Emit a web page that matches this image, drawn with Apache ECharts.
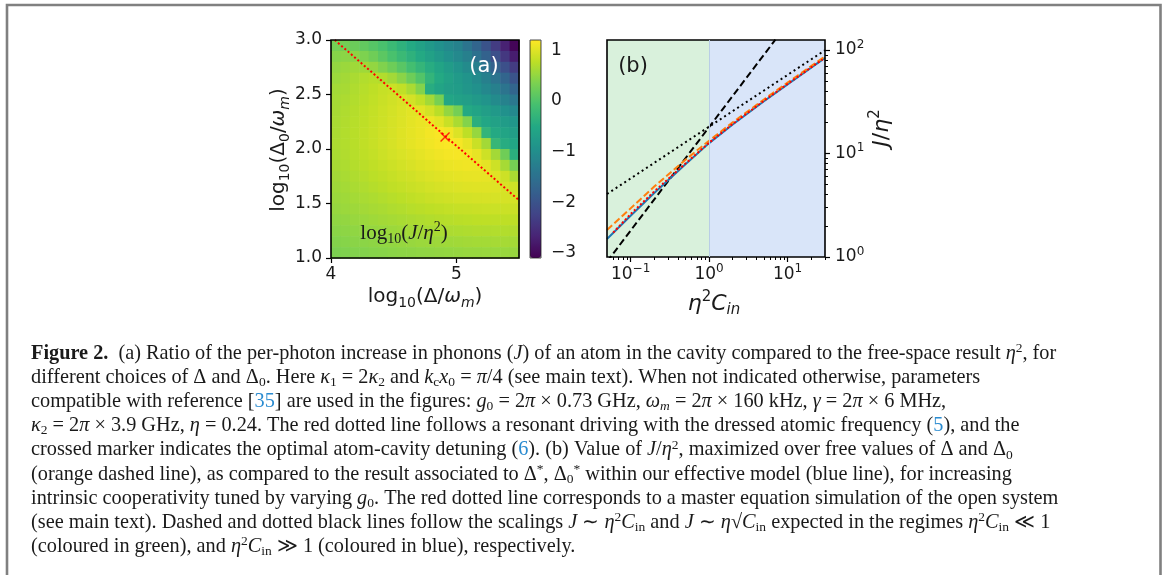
<!DOCTYPE html>
<html><head><meta charset="utf-8">
<script src="https://cdn.jsdelivr.net/npm/echarts@6/dist/echarts.min.js"></script>
<style>html,body{margin:0;padding:0;background:#fff}#c{width:1165px;height:575px}</style>
</head><body><div id="c"></div>
<script>
// ---------- Panel (a): heat map of log10(J/eta^2) ----------
const heatX = [4.0375,4.1125,4.1875,4.2625,4.3375,4.4125,4.4875,4.5625,4.6375,4.7125,4.7875,4.8625,4.9375,5.0125,5.0875,5.1625,5.2375,5.3125,5.3875,5.4625];
const heatY = [2.95,2.85,2.75,2.65,2.55,2.45,2.35,2.25,2.15,2.05,1.95,1.85,1.75,1.65,1.55,1.45,1.35,1.25,1.15,1.05];
const heatZ = [
 [0.3,0.28,0.22,0.15,0.05,-0.05,-0.2,-0.35,-0.5,-0.65,-0.8,-0.95,-1.08,-1.2,-1.45,-1.7,-2.0,-2.35,-2.7,-3.05],
 [0.42,0.45,0.45,0.36,0.25,0.1,-0.05,-0.2,-0.35,-0.5,-0.65,-0.8,-0.95,-1.08,-1.25,-1.5,-1.75,-2.05,-2.4,-2.75],
 [0.5,0.55,0.58,0.58,0.5,0.38,0.24,0.08,-0.1,-0.28,-0.45,-0.6,-0.75,-0.9,-1.05,-1.25,-1.5,-1.75,-2.05,-2.35],
 [0.55,0.6,0.65,0.7,0.73,0.7,0.6,0.44,0.24,0.02,-0.3,-0.5,-0.65,-0.78,-0.9,-1.05,-1.25,-1.45,-1.7,-2.0],
 [0.6,0.63,0.68,0.73,0.78,0.83,0.86,0.8,0.65,0.4,-0.45,-0.6,-0.7,-0.75,-0.85,-0.95,-1.1,-1.25,-1.45,-1.7],
 [0.62,0.66,0.7,0.75,0.8,0.85,0.9,0.95,0.92,0.8,0.6,0.32,-0.55,-0.65,-0.7,-0.8,-0.9,-1.05,-1.2,-1.4],
 [0.63,0.68,0.72,0.77,0.82,0.87,0.92,0.97,1.02,1.02,0.92,0.75,0.5,0.3,-0.5,-0.6,-0.7,-0.8,-0.95,-1.1],
 [0.64,0.69,0.73,0.78,0.83,0.88,0.93,0.98,1.03,1.07,1.1,1.02,0.85,0.65,0.4,-0.4,-0.55,-0.65,-0.75,-0.85],
 [0.65,0.7,0.74,0.79,0.84,0.89,0.94,0.99,1.04,1.08,1.13,1.17,1.12,0.98,0.78,0.52,-0.3,-0.5,-0.6,-0.7],
 [0.66,0.7,0.74,0.79,0.84,0.89,0.94,0.99,1.04,1.08,1.12,1.16,1.18,1.15,1.05,0.85,0.6,-0.25,-0.45,-0.55],
 [0.65,0.69,0.73,0.78,0.82,0.87,0.92,0.96,1.0,1.04,1.08,1.11,1.14,1.15,1.13,1.05,0.88,0.6,0.25,-0.4],
 [0.63,0.67,0.71,0.75,0.79,0.83,0.87,0.91,0.95,0.99,1.02,1.05,1.08,1.1,1.11,1.1,1.03,0.88,0.62,0.3],
 [0.6,0.64,0.68,0.72,0.76,0.79,0.83,0.87,0.9,0.94,0.97,1.0,1.02,1.04,1.05,1.06,1.05,1.0,0.88,0.65],
 [0.58,0.61,0.65,0.68,0.72,0.75,0.79,0.82,0.85,0.88,0.91,0.94,0.96,0.98,0.99,1.0,1.0,0.99,0.95,0.88],
 [0.55,0.58,0.61,0.64,0.67,0.7,0.73,0.76,0.79,0.82,0.85,0.87,0.89,0.91,0.92,0.93,0.94,0.94,0.93,0.92],
 [0.52,0.55,0.57,0.6,0.63,0.65,0.68,0.7,0.73,0.75,0.77,0.79,0.81,0.83,0.84,0.85,0.86,0.86,0.86,0.85],
 [0.48,0.5,0.53,0.55,0.58,0.6,0.62,0.64,0.66,0.68,0.7,0.72,0.73,0.75,0.76,0.77,0.78,0.78,0.78,0.77],
 [0.44,0.46,0.48,0.5,0.52,0.54,0.56,0.58,0.6,0.61,0.63,0.64,0.66,0.67,0.68,0.69,0.69,0.7,0.7,0.69],
 [0.4,0.42,0.44,0.45,0.47,0.49,0.5,0.52,0.53,0.55,0.56,0.57,0.58,0.59,0.6,0.61,0.61,0.62,0.62,0.61],
 [0.35,0.37,0.39,0.4,0.42,0.43,0.45,0.46,0.47,0.48,0.49,0.5,0.51,0.52,0.53,0.53,0.54,0.54,0.54,0.53]
];
const CELL_W = 0.075, CELL_H = 0.1;
const resonantX = [4.03, 5.5];
const resonantY = [3.0, 1.53];
const optimum = [4.91, 2.11];
const aXTicks = [4, 5];
const aYTicks = [1.0, 1.5, 2.0, 2.5, 3.0];
const cbTicks = [-3, -2, -1, 0, 1];
const cbMin = -3.1, cbMax = 1.2;

// ---------- Panel (b) ----------
const bX = [0.05, 0.1, 0.2, 0.5, 1, 2, 5, 10, 20, 30];
const blueY = [1.49, 2.50, 4.15, 7.88, 12.6, 19.1, 32.0, 46.6, 67.6, 84.1];
const orangeY = [1.82, 2.95, 4.79, 8.7, 13.3, 20.0, 33.3, 48.4, 70.0, 86.7];
const redX = [0.06, 0.1, 0.2, 0.5, 1, 2, 5, 10, 20, 28];
const redY = [1.72, 2.6, 4.3, 8.0, 12.7, 19.3, 32.3, 47.0, 68.0, 81.0];
const dashedBlackX = [0.05, 7];
const dashedBlackY = [0.9, 126];
const dottedBlackX = [0.05, 30];
const dottedBlackY = [4.06, 99.5];
const regionEdges = [0.05, 1, 30];
const bXTicks = [0.1, 1, 10];
const bYTicks = [1, 10, 100];
const bXMinor = [0.06,0.07,0.08,0.09,0.2,0.3,0.4,0.5,0.6,0.7,0.8,0.9,2,3,4,5,6,7,8,9,20,30];
const bYMinor = [2,3,4,5,6,7,8,9,20,30,40,50,60,70,80,90];

const captionLines = [
 '{b|Figure 2.}  (a) Ratio of the per-photon increase in phonons ({i|J}) of an atom in the cavity compared to the free-space result {i|η}{sup|2}, for',
 'different choices of Δ and Δ{sub|0}. Here {i|κ}{sub|1} = 2{i|κ}{sub|2} and {i|k}{sub|c}{i|x}{sub|0} = {i|π}/4 (see main text). When not indicated otherwise, parameters',
 'compatible with reference [{l|35}] are used in the figures: {i|g}{sub|0} = 2{i|π} × 0.73 GHz, {i|ω}{isub|m} = 2{i|π} × 160 kHz, {i|γ} = 2{i|π} × 6 MHz,',
 '{i|κ}{sub|2} = 2{i|π} × 3.9 GHz, {i|η} = 0.24. The red dotted line follows a resonant driving with the dressed atomic frequency ({l|5}), and the',
 'crossed marker indicates the optimal atom-cavity detuning ({l|6}). (b) Value of {i|J}/{i|η}{sup|2}, maximized over free values of Δ and Δ{sub|0}',
 '(orange dashed line), as compared to the result associated to Δ{sup|*}, Δ{sub|0}{sup|*} within our effective model (blue line), for increasing',
 'intrinsic cooperativity tuned by varying {i|g}{sub|0}. The red dotted line corresponds to a master equation simulation of the open system',
 '(see main text). Dashed and dotted black lines follow the scalings {i|J} ∼ {i|η}{sup|2}{i|C}{sub|in} and {i|J} ∼ {i|η}√{i|C}{sub|in} expected in the regimes {i|η}{sup|2}{i|C}{sub|in} ≪ 1',
 '(coloured in green), and {i|η}{sup|2}{i|C}{sub|in} ≫ 1 (coloured in blue), respectively.'
];

const VIRIDIS = ['#440154','#482475','#414487','#355f8d','#2a788e','#21918c','#22a884','#44bf70','#7ad151','#bddf26','#fde725'];

// ---------- build ----------
const heatData = [];
heatY.forEach((y, j) => heatX.forEach((x, i) => heatData.push([x, y, heatZ[j][i]])));
const zip = (a, b) => a.map((v, i) => [v, b[i]]);

const AX = 'DejaVu Sans';
const SERIF = 'Liberation Serif';
const tickFont = {fontFamily: AX, fontSize: 17, color: '#1a1a1a'};
const supRich = {sup: {fontFamily: AX, fontSize: 12, lineHeight: 13, verticalAlign: 'top', color: '#1a1a1a'}};
const minus = v => String(v).replace('-', '\u2212');
const pow10 = v => { const e = Math.log10(v); if (Math.abs(e - Math.round(e)) > 1e-6) return ''; return '10{sup|' + minus(Math.round(e)) + '}'; };

function richSet(fam, size, lh, sub, color) {
  const base = {fontFamily: fam, fill: color};
  return {
    b: Object.assign({}, base, {fontSize: size, fontWeight: 'bold', lineHeight: lh}),
    i: Object.assign({}, base, {fontSize: size, fontStyle: 'italic', lineHeight: lh}),
    l: Object.assign({}, base, {fontSize: size, lineHeight: lh, fill: '#2a8bd0'}),
    sub: Object.assign({}, base, {fontSize: sub, lineHeight: sub, verticalAlign: 'bottom'}),
    isub: Object.assign({}, base, {fontSize: sub, fontStyle: 'italic', lineHeight: sub, verticalAlign: 'bottom'}),
    sup: Object.assign({}, base, {fontSize: sub, lineHeight: sub + 1, verticalAlign: 'top'})
  };
}
function textEl(x, y, text, fam, size, lh, sub, opts) {
  opts = opts || {};
  const color = opts.color || '#1a1a1a';
  return {
    type: 'text', x: x, y: y, rotation: opts.rotation || 0, z: 100,
    style: {
      text: text, fontFamily: fam, fontSize: size, fontStyle: opts.italic ? 'italic' : 'normal',
      lineHeight: lh, fill: color,
      align: opts.align || 'left', textAlign: opts.align || 'left',
      verticalAlign: opts.valign || 'top', textVerticalAlign: opts.valign || 'top',
      rich: richSet(fam, size, lh, sub, color)
    }
  };
}

const CAP = 20.3;
const graphics = [
  {type: 'rect', shape: {x: 7, y: 5, width: 1153.5, height: 640}, style: {fill: 'none', stroke: '#808080', lineWidth: 2.6}, z: 1}
];
captionLines.forEach((t, i) => graphics.push(textEl(31, 341.3 + 24.2 * i, t, SERIF, CAP, 24, 13.5)));
// panel (a) labels
graphics.push(textEl(279, 150, 'log{sub|10}(Δ{sub|0}/{i|ω}{isub|m})', AX, 20, 26, 14, {rotation: Math.PI / 2, align: 'center', valign: 'middle'}));
graphics.push(textEl(425, 297, 'log{sub|10}(Δ/{i|ω}{isub|m})', AX, 20, 26, 14, {align: 'center', valign: 'middle'}));
graphics.push(textEl(404, 233, 'log{sub|10}({i|J}/{i|η}{sup|2})', SERIF, 21, 26, 14, {align: 'center', valign: 'middle'}));
graphics.push(textEl(484, 67, '(a)', AX, 21, 26, 14, {align: 'center', valign: 'middle', color: '#ffffff'}));
// panel (b) labels
graphics.push(textEl(633, 67, '(b)', AX, 21, 26, 14, {align: 'center', valign: 'middle'}));
graphics.push(textEl(714, 304, '{i|η}{sup|2}{i|C}{isub|in}', AX, 22, 28, 15, {align: 'center', valign: 'middle'}));
graphics.push(textEl(882, 128, '{i|J}/{i|η}{sup|2}', AX, 22, 28, 15, {rotation: Math.PI / 2, align: 'center', valign: 'middle'}));

const tickLine = {lineStyle: {color: '#000', width: 1.2}};

const option = {
  animation: false,
  backgroundColor: '#fff',
  grid: [
    {left: 331, top: 40, width: 188, height: 218, show: true, z: 5, backgroundColor: 'transparent', borderColor: '#000', borderWidth: 1.6},
    {left: 530, top: 40, width: 11, height: 218, show: true, z: 5, backgroundColor: 'transparent', borderColor: '#222', borderWidth: 0.8},
    {left: 607, top: 40, width: 218, height: 217, show: true, z: 5, backgroundColor: 'transparent', borderColor: '#000', borderWidth: 1.6},
    {left: 607, top: 40, width: 218, height: 217, show: false}
  ],
  xAxis: [
    {gridIndex: 0, type: 'value', min: 4, max: 5.5, splitLine: {show: false}, axisLine: {show: false},
     axisTick: Object.assign({customValues: aXTicks, length: 5}, tickLine),
     axisLabel: Object.assign({customValues: aXTicks, margin: 8}, tickFont)},
    {gridIndex: 1, type: 'value', show: false},
    {gridIndex: 2, type: 'log', min: 0.05, max: 30, splitLine: {show: false}, axisLine: {show: false},
     axisTick: Object.assign({customValues: bXTicks, length: 5}, tickLine),
     axisLabel: Object.assign({customValues: bXTicks, margin: 6, lineHeight: 23, formatter: pow10, rich: supRich}, tickFont)},
    {gridIndex: 3, type: 'log', min: 0.05, max: 30, splitLine: {show: false}, axisLine: {show: false}, axisLabel: {show: false},
     axisTick: Object.assign({customValues: bXMinor, length: 3}, {lineStyle: {color: '#000', width: 1}})}
  ],
  yAxis: [
    {gridIndex: 0, type: 'value', min: 1, max: 3, splitLine: {show: false}, axisLine: {show: false},
     axisTick: Object.assign({customValues: aYTicks, length: 5}, tickLine),
     axisLabel: Object.assign({customValues: aYTicks, margin: 9, formatter: v => v.toFixed(1)}, tickFont)},
    {gridIndex: 1, type: 'value', min: cbMin, max: cbMax, position: 'right', splitLine: {show: false}, axisLine: {show: false},
     axisTick: Object.assign({customValues: cbTicks, length: 4}, tickLine),
     axisLabel: Object.assign({customValues: cbTicks, margin: 10, formatter: minus}, tickFont)},
    {gridIndex: 2, type: 'log', min: 1, max: 125, position: 'right', splitLine: {show: false}, axisLine: {show: false},
     axisTick: Object.assign({customValues: bYTicks, length: 5}, tickLine),
     axisLabel: Object.assign({customValues: bYTicks, margin: 10, lineHeight: 23, formatter: pow10, rich: supRich}, tickFont)},
    {gridIndex: 3, type: 'log', min: 1, max: 125, position: 'right', splitLine: {show: false}, axisLine: {show: false}, axisLabel: {show: false},
     axisTick: Object.assign({customValues: bYMinor, length: 3}, {lineStyle: {color: '#000', width: 1}})}
  ],
  visualMap: {
    type: 'continuous', min: cbMin, max: cbMax, seriesIndex: 0, dimension: 2, calculable: false,
    left: 530, top: 40, itemWidth: 11, itemHeight: 218, padding: 0, text: null, showLabel: false,
    inRange: {color: VIRIDIS}
  },
  series: [
    {type: 'custom', xAxisIndex: 0, yAxisIndex: 0, data: heatData, silent: true,
     renderItem: function (params, api) {
       const x = api.value(0), y = api.value(1);
       const p0 = api.coord([x - CELL_W / 2, y + CELL_H / 2]);
       const p1 = api.coord([x + CELL_W / 2, y - CELL_H / 2]);
       return {type: 'rect', shape: {x: p0[0], y: p0[1], width: p1[0] - p0[0] + 0.6, height: p1[1] - p0[1] + 0.6},
               style: {fill: api.visual('color')}};
     }},
    {type: 'line', xAxisIndex: 0, yAxisIndex: 0, data: zip(resonantX, resonantY), showSymbol: false, silent: true, z: 3,
     lineStyle: {color: '#ff0000', width: 2, type: [2, 2.3]}},
    {type: 'scatter', xAxisIndex: 0, yAxisIndex: 0, data: [optimum], silent: true, z: 4,
     symbol: 'path://M0,1 L1,0 L5,4 L9,0 L10,1 L6,5 L10,9 L9,10 L5,6 L1,10 L0,9 L4,5 Z', symbolSize: 10,
     itemStyle: {color: '#ff0000'}},
    {type: 'line', xAxisIndex: 2, yAxisIndex: 2, data: zip(dashedBlackX, dashedBlackY), showSymbol: false, silent: true,
     lineStyle: {color: '#000', width: 2, type: [7, 3.5]},
     markArea: {silent: true, data: [
       [{xAxis: regionEdges[0], itemStyle: {color: '#d9f1dc'}}, {xAxis: regionEdges[1]}],
       [{xAxis: regionEdges[1], itemStyle: {color: '#d9e5f9'}}, {xAxis: regionEdges[2]}]
     ]},
     markLine: {silent: true, symbol: 'none', label: {show: false}, lineStyle: {color: '#b9cde6', width: 1, type: 'solid'},
       data: [{xAxis: regionEdges[1]}]}},
    {type: 'line', xAxisIndex: 2, yAxisIndex: 2, data: zip(dottedBlackX, dottedBlackY), showSymbol: false, silent: true,
     lineStyle: {color: '#000', width: 2, type: [2, 3.2]}},
    {type: 'line', xAxisIndex: 2, yAxisIndex: 2, data: zip(bX, blueY), showSymbol: false, silent: true,
     lineStyle: {color: '#1f77b4', width: 2}},
    {type: 'line', xAxisIndex: 2, yAxisIndex: 2, data: zip(bX, orangeY), showSymbol: false, silent: true,
     lineStyle: {color: '#ff7f0e', width: 2, type: [7, 3]}},
    {type: 'line', xAxisIndex: 2, yAxisIndex: 2, data: zip(redX, redY), showSymbol: false, silent: true,
     lineStyle: {color: '#ff0000', width: 2, type: [2, 2.3]}}
  ],
  graphic: graphics
};
const chart = echarts.init(document.getElementById('c'), null, {renderer: 'canvas'});
chart.setOption(option);
</script>
</body></html>
